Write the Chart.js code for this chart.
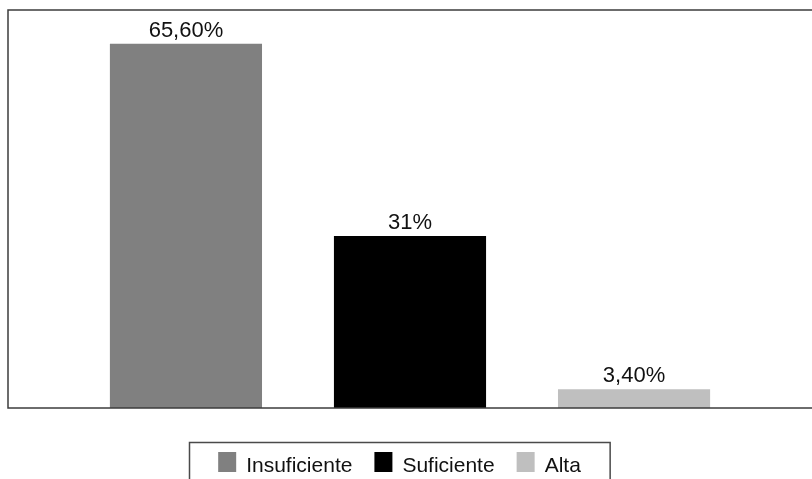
<!DOCTYPE html>
<html>
<head>
<meta charset="utf-8">
<script src="https://cdn.jsdelivr.net/npm/chart.js@4.4.0/dist/chart.umd.min.js"></script>
<style>
    html, body { margin: 0; padding: 0; background: #ffffff; }
    #wrap { width: 812px; height: 479px; }
</style>
</head>
<body>
<div id="wrap"><canvas id="chart"></canvas></div>
<script>
// Data
const seriesNames = ['Insuficiente', 'Suficiente', 'Alta'];
const seriesValues = [65.6, 31, 3.4];
const valueLabels = ['65,60%', '31%', '3,40%'];
const seriesColors = ['#808080', '#000000', '#bfbfbf'];

const FONT = '21px "Liberation Sans", Arial, Helvetica, sans-serif';
const LABEL_FONT = '22px "Liberation Sans", Arial, Helvetica, sans-serif';

// Frame round the plot area (left, top, bottom; right edge runs off the canvas)
const framePlugin = {
    id: 'frame',
    afterDraw(chart) {
        const { ctx, chartArea: a } = chart;
        ctx.save();
        ctx.strokeStyle = '#3c3c3c';
        ctx.lineWidth = 1.5;
        ctx.strokeRect(a.left, a.top, a.right - a.left + 4, a.bottom - a.top);
        ctx.restore();
    }
};

// Value labels above each bar
const valueLabelPlugin = {
    id: 'valueLabels',
    afterDatasetsDraw(chart) {
        const { ctx } = chart;
        ctx.save();
        ctx.font = LABEL_FONT;
        ctx.fillStyle = '#111111';
        ctx.textAlign = 'center';
        ctx.textBaseline = 'alphabetic';
        chart.data.datasets.forEach((ds, i) => {
            const bar = chart.getDatasetMeta(i).data[0];
            ctx.fillText(valueLabels[i], bar.x, bar.y - 7);
        });
        ctx.restore();
    }
};

// Boxed legend under the plot
const legendBoxPlugin = {
    id: 'legendBox',
    afterDraw(chart) {
        const { ctx } = chart;
        const boxW = 18, boxH = 20, textGap = 10, itemGap = 22;
        const centerX = 399.5, baseline = 472;
        ctx.save();
        ctx.font = FONT;
        const items = chart.data.datasets.map(ds => ({
            label: ds.label,
            color: ds.backgroundColor,
            w: ctx.measureText(ds.label).width
        }));
        const total = items.reduce((s, it) => s + boxW + textGap + it.w, 0) + itemGap * (items.length - 1);
        let x = centerX - total / 2;

        ctx.strokeStyle = '#4a4a4a';
        ctx.lineWidth = 1.5;
        ctx.strokeRect(Math.round(x - 29) + 0.5, 442.5, total + 58, 60);

        ctx.textBaseline = 'alphabetic';
        ctx.textAlign = 'left';
        items.forEach(it => {
            ctx.fillStyle = it.color;
            ctx.fillRect(x, baseline - boxH, boxW, boxH);
            x += boxW + textGap;
            ctx.fillStyle = '#111111';
            ctx.fillText(it.label, x, baseline);
            x += it.w + itemGap;
        });
        ctx.restore();
    }
};

function initChart() {
    const ctx = document.getElementById('chart').getContext('2d');
    new Chart(ctx, {
        type: 'bar',
        data: {
            labels: [''],
            datasets: seriesNames.map((name, i) => ({
                label: name,
                data: [seriesValues[i]],
                backgroundColor: seriesColors[i],
                borderWidth: 0,
                categoryPercentage: 0.836,
                barPercentage: 0.679
            }))
        },
        options: {
            responsive: true,
            maintainAspectRatio: false,
            animation: false,
            layout: { padding: { left: 8, top: 10, right: 0, bottom: 71 } },
            scales: {
                x: { display: false },
                y: { display: false, min: 0, max: 71.7 }
            },
            plugins: {
                legend: { display: false },
                tooltip: { enabled: false }
            }
        },
        plugins: [framePlugin, valueLabelPlugin, legendBoxPlugin]
    });
}

initChart();
</script>
</body>
</html>
